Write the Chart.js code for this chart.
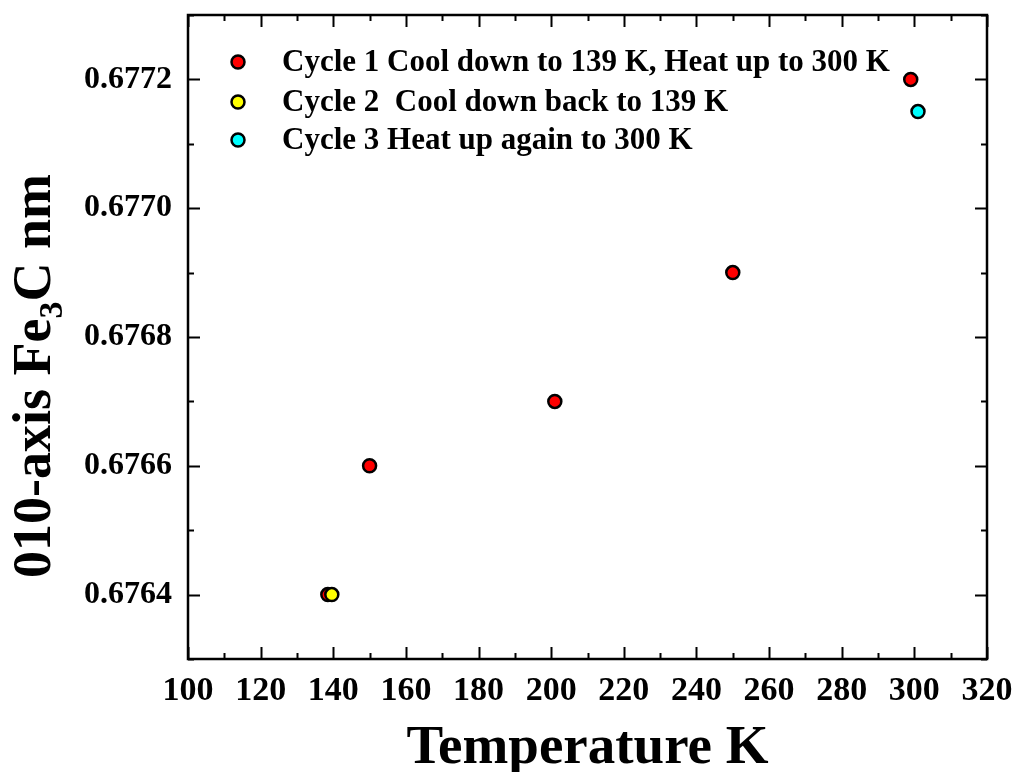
<!DOCTYPE html>
<html>
<head>
<meta charset="utf-8">
<script src="https://cdn.jsdelivr.net/npm/chart.js@4/dist/chart.umd.min.js"></script>
<style>
    body { margin: 0; background: #fff; }
    #wrap { width: 1014px; height: 772px; }
</style>
</head>
<body>
<div id="wrap"><canvas id="charts" width="1014" height="772"></canvas></div>
<script>
// data
const seriesLabels = [
    'Cycle 1 Cool down to 139 K, Heat up to 300 K',
    'Cycle 2  Cool down back to 139 K',
    'Cycle 3 Heat up again to 300 K'
];
const cycle1Temp = [138.5, 150, 201, 250, 299];
const cycle1Axis = [0.6764, 0.6766, 0.6767, 0.6769, 0.6772];
const cycle2Temp = [139.6];
const cycle2Axis = [0.6764];
const cycle3Temp = [301];
const cycle3Axis = [0.67715];
const seriesColors = ['#ff0000', '#ffff00', '#00ffff'];

const xTicks = [100, 120, 140, 160, 180, 200, 220, 240, 260, 280, 300, 320];
const yTicks = [0.6764, 0.6766, 0.6768, 0.6770, 0.6772];
const xMinorStep = 10;
const yMinorStep = 0.0001;

const serif = '"Liberation Serif", "Times New Roman", serif';

const toPoints = (xs, ys) => xs.map((x, i) => ({ x: x, y: ys[i] }));

// frame with inward ticks on all four sides
const framePlugin = {
    id: 'frame',
    afterDatasetsDraw(chart) {
        const ctx = chart.ctx;
        const a = chart.chartArea;
        const xs = chart.scales.x, ys = chart.scales.y;
        ctx.save();
        ctx.strokeStyle = '#000';
        ctx.lineWidth = 2.5;
        ctx.strokeRect(a.left, a.top, a.right - a.left, a.bottom - a.top);
        ctx.lineWidth = 2;
        ctx.beginPath();
        for (let v = xs.min; v <= xs.max + 1e-9; v += xMinorStep) {
            const p = Math.round(xs.getPixelForValue(v)) + 0.5;
            const len = xTicks.includes(Math.round(v)) ? 12 : 6;
            ctx.moveTo(p, a.bottom); ctx.lineTo(p, a.bottom - len);
            ctx.moveTo(p, a.top); ctx.lineTo(p, a.top + len);
        }
        for (let k = 0; k <= 10; k++) {
            const v = ys.min + k * yMinorStep;
            const p = Math.round(ys.getPixelForValue(v)) + 0.5;
            const major = yTicks.some(t => Math.abs(t - v) < 1e-8);
            const len = major ? 12 : 6;
            ctx.moveTo(a.left, p); ctx.lineTo(a.left + len, p);
            ctx.moveTo(a.right, p); ctx.lineTo(a.right - len, p);
        }
        ctx.stroke();
        ctx.restore();
    }
};

// legend inside the plot, top left
const legendPlugin = {
    id: 'innerLegend',
    afterDatasetsDraw(chart) {
        const ctx = chart.ctx;
        ctx.save();
        ctx.font = 'bold 31px ' + serif;
        ctx.textBaseline = 'middle';
        ctx.fillStyle = '#000';
        const rows = [62, 102, 140];
        chart.data.datasets.forEach((ds, i) => {
            ctx.beginPath();
            ctx.arc(238, rows[i], 6.5, 0, Math.PI * 2);
            ctx.fillStyle = ds.backgroundColor;
            ctx.fill();
            ctx.lineWidth = 2.5;
            ctx.strokeStyle = '#000';
            ctx.stroke();
            ctx.fillStyle = '#000';
            ctx.fillText(ds.label, 282, rows[i] + 1);
        });
        ctx.restore();
    }
};

// axis titles, y one has a subscript
const titlePlugin = {
    id: 'axisTitles',
    afterDraw(chart) {
        const ctx = chart.ctx;
        const a = chart.chartArea;
        ctx.save();
        ctx.fillStyle = '#000';
        ctx.font = 'bold 55px ' + serif;
        ctx.textAlign = 'center';
        ctx.textBaseline = 'alphabetic';
        ctx.fillText('Temperature K', (a.left + a.right) / 2, 763);

        const big = 'bold 54px ' + serif;
        const small = 'bold 34px ' + serif;
        const parts = [['010-axis Fe', big, 0], ['3', small, 12], ['C nm', big, 0]];
        let total = 0;
        parts.forEach(p => { ctx.font = p[1]; total += ctx.measureText(p[0]).width; });
        ctx.translate(50, 376);
        ctx.rotate(-Math.PI / 2);
        ctx.textAlign = 'left';
        let x = -total / 2;
        parts.forEach(p => {
            ctx.font = p[1];
            ctx.fillText(p[0], x, p[2]);
            x += ctx.measureText(p[0]).width;
        });
        ctx.restore();
    }
};

window.onload = () => {
    const ctx = document.getElementById('charts').getContext('2d');
    const sets = [[cycle1Temp, cycle1Axis], [cycle2Temp, cycle2Axis], [cycle3Temp, cycle3Axis]];
    new Chart(ctx, {
        type: 'scatter',
        data: {
            datasets: sets.map((s, i) => ({
                label: seriesLabels[i],
                data: toPoints(s[0], s[1]),
                backgroundColor: seriesColors[i],
                borderColor: '#000',
                borderWidth: 2.5,
                pointRadius: 6.5,
                pointHoverRadius: 6.5,
                order: 3 - i
            }))
        },
        options: {
            responsive: false,
            animation: false,
            layout: { padding: { top: 15, right: 27, left: 0, bottom: 0 } },
            plugins: {
                legend: { display: false },
                tooltip: { enabled: false }
            },
            scales: {
                x: {
                    type: 'linear',
                    min: 100,
                    max: 320,
                    grid: { display: false, drawTicks: false },
                    border: { display: false },
                    afterBuildTicks: s => { s.ticks = xTicks.map(v => ({ value: v })); },
                    afterFit: s => {
                        s.height = 113;
                        s.paddingLeft = 0;
                        s.paddingRight = 0;
                    },
                    ticks: {
                        color: '#000',
                        padding: 12,
                        maxRotation: 0,
                        autoSkip: false,
                        font: { family: serif, size: 34, weight: 'bold' }
                    }
                },
                y: {
                    min: 0.6763,
                    max: 0.6773,
                    grid: { display: false, drawTicks: false },
                    border: { display: false },
                    afterBuildTicks: s => { s.ticks = yTicks.map(v => ({ value: v })); },
                    afterFit: s => {
                        s.width = 188;
                        s.paddingTop = 0;
                        s.paddingBottom = 0;
                    },
                    ticks: {
                        color: '#000',
                        padding: 16,
                        autoSkip: false,
                        font: { family: serif, size: 32, weight: 'bold' },
                        callback: v => v.toFixed(4)
                    }
                }
            }
        },
        plugins: [framePlugin, legendPlugin, titlePlugin]
    });
};
</script>
</body>
</html>
